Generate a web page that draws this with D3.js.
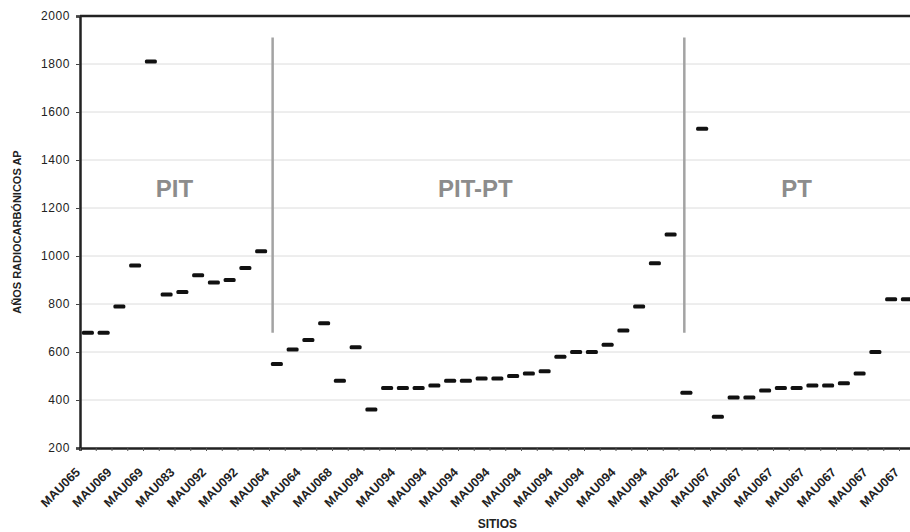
<html>
	<head>
		<title>Años radiocarbónicos por sitio</title>
		<style type = 'text/css'>
			body {
				margin: 0;
				font-family: Arial, "Liberation Sans", Helvetica, sans-serif;
				background: #fff;
			}
			.grid line {
				stroke: #dcdcdc;
				stroke-width: 1px;
			}
			.axis text {
				fill: #222;
			}
		</style>
	</head>
	<body>
		<script src="https://cdn.jsdelivr.net/npm/d3@7"></script>
		<script type="text/javascript">
			// one value per site (years BP), in the order they appear
			var ages = [
				680, 680, 790, 960, 1810, 840, 850, 920, 890, 900, 950, 1020,
				550, 610, 650, 720, 480, 620, 360, 450, 450, 450, 460, 480, 480,
				490, 490, 500, 510, 520, 580, 600, 600, 630, 690, 790, 970, 1090,
				430, 1530, 330, 410, 410, 440, 450, 450, 460, 460, 470, 510, 600, 820, 820
			];

			// only every second site is labelled on the axis
			var tickLabels = [
				"MAU065", "MAU069", "MAU069", "MAU083", "MAU092", "MAU092", "MAU064",
				"MAU064", "MAU068", "MAU094", "MAU094", "MAU094", "MAU094", "MAU094",
				"MAU094", "MAU094", "MAU094", "MAU094", "MAU094", "MAU062", "MAU067",
				"MAU067", "MAU067", "MAU067", "MAU067", "MAU067", "MAU067"
			];

			var yTicks = [200, 400, 600, 800, 1000, 1200, 1400, 1600, 1800, 2000];

			// period names and the divider lines between them (in site units)
			var periods = ["PIT", "PIT-PT", "PT"];
			var periodCentres = [6.0, 25.1, 45.5];
			var dividers = [12.23, 38.37];
			var dividerRange = [680, 1910];

			var width = 910,
				height = 532,
				plotLeft = 80,
				plotTop = 16,
				plotBottom = 448,
				step = 15.75;

			var svg = d3.select("body").append("svg")
				.attr("width", width)
				.attr("height", height);

			var x = d3.scaleLinear()
				.domain([0, ages.length])
				.range([plotLeft, plotLeft + ages.length * step]);

			var y = d3.scaleLinear()
				.domain([200, 2000])
				.range([plotBottom, plotTop]);

			// horizontal grid
			svg.append("g")
				.attr("class", "grid")
				.selectAll("line")
				.data(yTicks.slice(1, -1))
				.enter().append("line")
				.attr("x1", plotLeft)
				.attr("x2", width)
				.attr("y1", function(d) { return y(d); })
				.attr("y2", function(d) { return y(d); });

			// y axis
			var yAxis = svg.append("g")
				.attr("class", "axis")
				.attr("transform", "translate(" + plotLeft + ",0)")
				.call(d3.axisLeft(y).tickValues(yTicks).tickFormat(d3.format("d")).tickSize(4).tickPadding(6));
			yAxis.select(".domain").attr("stroke", "#222").attr("stroke-width", 2.5);
			yAxis.selectAll(".tick line").attr("stroke", "#444");
			yAxis.selectAll("text")
				.attr("font-size", 12)
				.attr("letter-spacing", 0.6)
				.attr("font-family", "Arial, 'Liberation Sans', sans-serif");

			// x axis: ticks between sites
			var xAxis = svg.append("g")
				.attr("class", "axis")
				.attr("transform", "translate(0," + plotBottom + ")")
				.call(d3.axisBottom(x).tickValues(d3.range(0, ages.length + 1)).tickSize(3).tickFormat(""));
			xAxis.select(".domain").attr("stroke", "#222").attr("stroke-width", 2.5);
			xAxis.selectAll(".tick line").attr("stroke", "#555");

			svg.append("g")
				.attr("class", "axis")
				.selectAll("text")
				.data(tickLabels)
				.enter().append("text")
				.attr("transform", function(d, i) {
					return "translate(" + (x(i * 2 + 0.5) - 7) + "," + (plotBottom + 25) + ")rotate(-45)";
				})
				.attr("text-anchor", "end")
				.attr("font-size", 12.5)
				.attr("font-weight", "bold")
				.attr("fill", "#333")
				.text(function(d) { return d; });

			// top frame line
			svg.append("line")
				.attr("x1", plotLeft)
				.attr("x2", width)
				.attr("y1", plotTop)
				.attr("y2", plotTop)
				.attr("stroke", "#222")
				.attr("stroke-width", 2.5);

			// dividers
			svg.selectAll(".divider")
				.data(dividers)
				.enter().append("line")
				.attr("class", "divider")
				.attr("x1", function(d) { return x(d); })
				.attr("x2", function(d) { return x(d); })
				.attr("y1", y(dividerRange[1]))
				.attr("y2", y(dividerRange[0]))
				.attr("stroke", "#a3a3a3")
				.attr("stroke-width", 2.5);

			// period names
			svg.selectAll(".period")
				.data(periods)
				.enter().append("text")
				.attr("class", "period")
				.attr("x", function(d, i) { return x(periodCentres[i]); })
				.attr("y", 197)
				.attr("text-anchor", "middle")
				.attr("font-size", 24)
				.attr("font-weight", "bold")
				.attr("fill", "#8c8c8c")
				.text(function(d) { return d; });

			// one dash per dated sample
			svg.selectAll(".dash")
				.data(ages)
				.enter().append("rect")
				.attr("class", "dash")
				.attr("x", function(d, i) { return x(i + 0.5) - 6; })
				.attr("y", function(d) { return y(d) - 2; })
				.attr("width", 12)
				.attr("height", 4)
				.attr("rx", 1.5)
				.attr("fill", "#111");

			// axis titles
			svg.append("text")
				.attr("transform", "translate(21," + ((plotTop + plotBottom) / 2) + ")rotate(-90)")
				.attr("text-anchor", "middle")
				.attr("font-size", 11)
				.attr("font-weight", "bold")
				.attr("fill", "#222")
				.text("AÑOS RADIOCARBÓNICOS AP");

			svg.append("text")
				.attr("x", (x(0) + x(ages.length)) / 2)
				.attr("y", 528)
				.attr("text-anchor", "middle")
				.attr("font-size", 12)
				.attr("font-weight", "bold")
				.attr("fill", "#222")
				.text("SITIOS");
		</script>
	</body>
</html>
